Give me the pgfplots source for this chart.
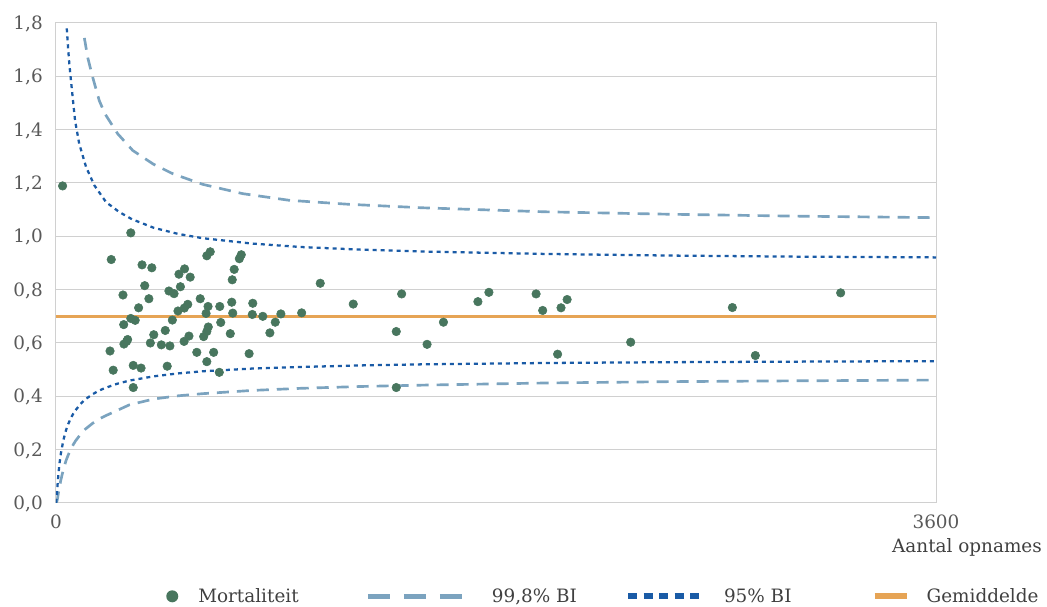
\documentclass[border=0pt]{standalone}
\usepackage{fontspec}
\setmainfont{DejaVu Serif}
\usepackage{pgfplots}
\pgfplotsset{compat=1.18}
\definecolor{ptcol}{HTML}{48765E}
\definecolor{dashcol}{HTML}{7BA3BF}
\definecolor{dotcol}{HTML}{1A5BA6}
\definecolor{orcol}{HTML}{E6A455}
\definecolor{gridcol}{HTML}{D0D0D0}
\definecolor{tickcol}{HTML}{595959}
\definecolor{labcol}{HTML}{404040}
\newcommand{\chartfont}{\fontsize{13.8}{16}\selectfont}
\begin{document}
\begin{tikzpicture}[font=\chartfont]
\useasboundingbox (-42pt,-78pt) rectangle (743.25pt,377.25pt);
\begin{axis}[
  at={(0pt,0pt)}, anchor=south west,
  scale only axis, width=660pt, height=360pt,
  xmin=0, xmax=3600, ymin=0, ymax=1.8,
  xtick={0,3600}, xticklabels={0,3600},
  ytick={0,0.2,0.4,0.6,0.8,1.0,1.2,1.4,1.6,1.8},
  yticklabel style={/pgf/number format/fixed, /pgf/number format/fixed zerofill, /pgf/number format/precision=1, /pgf/number format/use comma, /pgf/number format/assume math mode=true},
  yticklabel style={anchor=base east, inner sep=0pt, xshift=-9.75pt, yshift=-5pt, text=tickcol, font=\chartfont},
  xticklabel style={anchor=base, inner sep=0pt, yshift=-19.5pt, text=tickcol, font=\chartfont},
  major tick length=0pt,
  ymajorgrids, grid style={gridcol, line width=0.75pt},
  axis line style={gridcol, line width=0.75pt},
  xlabel={Aantal opnames},
  xlabel style={at={(axis description cs:1.0352,-0.1021)}, anchor=base, inner sep=0pt, text=labcol, font=\chartfont},
  legend columns=4,
  legend cell align=left,
  legend style={at={(axis description cs:0.11818,-0.1944)}, anchor=west, draw=none, fill=none, inner sep=0pt,
    nodes={inner sep=0pt, text=labcol, font=\chartfont},
    /tikz/column 2/.style={column sep=50pt},
    /tikz/column 4/.style={column sep=36pt},
    /tikz/column 6/.style={column sep=60pt}},
]
\addlegendimage{legend image code/.code={\path[draw=none,fill=none] (0pt,-4.6pt) rectangle (28.5pt,4.6pt); \fill[ptcol, draw=none] (9pt,0pt) circle (4.5pt);}}
\addlegendentry{Mortaliteit}
\addlegendimage{legend image code/.code={\path[draw=none,fill=none] (0pt,0pt) rectangle (93pt,0pt); \draw[dashcol, line width=3.8pt, dash pattern=on 16.5pt off 10.5pt] (0pt,0pt) -- (70.5pt,0pt);}}
\addlegendentry{99,8\% BI}
\addlegendimage{legend image code/.code={\path[draw=none,fill=none] (0pt,0pt) rectangle (72pt,0pt); \draw[dotcol, line width=4.6pt, dash pattern=on 6.75pt off 4.9pt] (0pt,0pt) -- (53.3pt,0pt);}}
\addlegendentry{95\% BI}
\addlegendimage{legend image code/.code={\path[draw=none,fill=none] (0pt,0pt) rectangle (39pt,0pt); \draw[orcol, line width=4.6pt] (0pt,0pt) -- (24pt,0pt);}}
\addlegendentry{Gemiddelde}

% 99.8% BI
\addplot[forget plot, dashcol, line width=2pt, dash pattern=on 9pt off 6pt] coordinates {
(116,1.744)(130,1.670)(150,1.597)(177,1.509)(200,1.460)(218,1.434)(252,1.385)(314,1.322)(396,1.272)(477,1.235)(600,1.195)(764,1.160)(955,1.135)(1200,1.120)(1500,1.107)(2000,1.092)(2500,1.083)(3000,1.076)(3600,1.070)};
\addplot[forget plot, dashcol, line width=2pt, dash pattern=on 9pt off 6pt] coordinates {
(0,0)(3,0.004)(5,0.011)(10,0.038)(15,0.064)(20,0.087)(30,0.125)(41,0.159)(50,0.180)(60,0.201)(70,0.218)(80,0.233)(100,0.257)(120,0.277)(150,0.299)(175,0.314)(200,0.326)(250,0.347)(300,0.368)(400,0.390)(500,0.402)(600,0.410)(800,0.422)(1000,0.430)(1250,0.437)(1500,0.442)(2000,0.450)(2500,0.455)(3000,0.458)(3600,0.461)};
% 95% BI
\addplot[forget plot, dotcol, line width=1.7pt, dash pattern=on 3pt off 3pt] coordinates {
(44,1.780)(50,1.700)(54.5,1.647)(64,1.559)(78,1.434)(95,1.347)(123,1.260)(157,1.191)(205,1.128)(259,1.091)(311,1.064)(400,1.032)(500,1.009)(600,0.993)(800,0.973)(1000,0.960)(1250,0.950)(1500,0.943)(2000,0.934)(2500,0.928)(3000,0.924)(3600,0.921)};
\addplot[forget plot, dotcol, line width=1.7pt, dash pattern=on 3pt off 3pt] coordinates {
(0,0)(3,0.024)(5,0.052)(10,0.110)(15,0.153)(20,0.186)(30,0.235)(41,0.273)(50,0.296)(60,0.317)(70,0.334)(80,0.348)(100,0.371)(120,0.389)(150,0.408)(175,0.421)(200,0.431)(250,0.447)(300,0.459)(400,0.475)(500,0.486)(600,0.494)(800,0.504)(1000,0.510)(1250,0.516)(1500,0.520)(2000,0.525)(2500,0.528)(3000,0.530)(3600,0.532)};
% Gemiddelde
\addplot[forget plot, orcol, line width=2.5pt] coordinates {(0,0.70)(3600,0.70)};
% Mortaliteit
\addplot[forget plot, only marks, mark=*, mark size=3.2pt, mark options={draw=ptcol, fill=ptcol}] coordinates {
(27,1.189)(306,1.013)(226,0.913)(352,0.893)(392,0.882)(526,0.878)(503,0.858)(549,0.847)
(617,0.927)(631,0.942)(750,0.916)(758,0.931)(729,0.876)(721,0.837)(363,0.815)(509,0.811)
(274,0.780)(462,0.795)(483,0.785)(380,0.766)(590,0.766)(719,0.753)(805,0.749)(338,0.732)
(539,0.745)(525,0.731)(499,0.720)(622,0.737)(670,0.737)(614,0.711)(723,0.712)(803,0.707)
(846,0.700)(920,0.709)(306,0.692)(324,0.685)(277,0.669)(476,0.686)(897,0.678)(674,0.677)
(623,0.660)(617,0.643)(604,0.624)(447,0.647)(400,0.631)(544,0.626)(713,0.635)(875,0.638)
(293,0.613)(289,0.606)(278,0.596)(386,0.600)(431,0.593)(466,0.589)(524,0.606)(221,0.570)
(576,0.565)(645,0.565)(790,0.560)(617,0.530)(234,0.498)(316,0.516)(348,0.506)(455,0.513)
(668,0.490)(316,0.433)
(1005,0.713)(1081,0.824)(1216,0.746)(1414,0.784)(1392,0.643)(1392,0.433)(1518,0.595)
(1585,0.678)(1726,0.755)(1771,0.790)(1964,0.784)(1991,0.722)(2066,0.732)(2091,0.763)
(2052,0.558)(2351,0.603)(2767,0.733)(2861,0.553)(3210,0.788)};
\end{axis}
\end{tikzpicture}
\end{document}
